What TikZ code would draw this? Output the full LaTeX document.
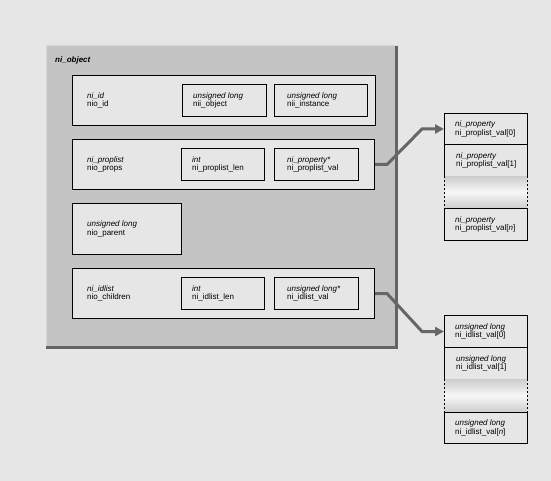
\documentclass[tikz,border=0pt]{standalone}
\usepackage{fontspec}
\setmainfont{Liberation Sans}
\usetikzlibrary{arrows.meta}
\definecolor{bg}{HTML}{E6E6E6}
\definecolor{objgray}{HTML}{C4C4C4}
\definecolor{darkedge}{HTML}{646464}
\definecolor{lightedge}{HTML}{D6D6D6}
\definecolor{shadegray}{HTML}{CDCDCD}
\definecolor{conncol}{HTML}{666666}
\begin{document}
\begin{tikzpicture}[x=1pt,y=-1pt,
  box/.style={draw=black, line width=1pt, fill=bg, inner sep=0pt, anchor=north west},
  lbl/.style={font=\fontsize{8}{8.2}\selectfont, align=left, inner sep=0pt, anchor=west},
  conn/.style={draw=conncol, line width=3pt, -{Triangle[length=9pt,width=9pt]}},
  gapcell/.style={inner sep=0pt, anchor=north west, minimum width=83pt, minimum height=32pt,
     top color=shadegray, bottom color=shadegray, middle color=white!97!black},
  sidedash/.style={draw=black, line width=1pt, dash pattern=on 2pt off 2pt}]
\fill[bg] (0,0) rectangle (551,481);
\useasboundingbox (0,0) rectangle (551,481);

% outer ni_object box
\node[fill=objgray, inner sep=0pt, anchor=north west, minimum width=350pt, minimum height=301pt] (obj) at (46,46) {};
\draw[lightedge, line width=1pt] (obj.south west) -- (obj.north west) -- (obj.north east);
\draw[darkedge, line width=3pt] (obj.north east) -- (obj.south east) -- (obj.south west);
\node[font=\fontsize{8}{9}\selectfont\bfseries\itshape, inner sep=0pt, anchor=west] (title) at (55,60) {ni\_object};

% ni_id
\node[box, minimum width=303pt, minimum height=50pt] (b1) at (72,75) {};
\node[lbl] (t1) at ([xshift=15pt]b1.west) {\textit{ni\_id}\\nio\_id};
\node[box, minimum width=84pt, minimum height=32pt] (s11) at (182,84) {};
\node[lbl] (u11) at ([xshift=11pt]s11.west) {\textit{unsigned long}\\nii\_object};
\node[box, minimum width=93pt, minimum height=32pt] (s12) at (274,84) {};
\node[lbl] (u12) at ([xshift=13pt]s12.west) {\textit{unsigned long}\\nii\_instance};

% ni_proplist
\node[box, minimum width=302pt, minimum height=50pt] (b2) at (72,139) {};
\node[lbl] (t2) at ([xshift=15pt]b2.west) {\textit{ni\_proplist}\\nio\_props};
\node[box, minimum width=83pt, minimum height=32pt] (s21) at (181,148) {};
\node[lbl] (u21) at ([xshift=11pt]s21.west) {\textit{int}\\ni\_proplist\_len};
\node[box, minimum width=84pt, minimum height=32pt] (s22) at (274,148) {};
\node[lbl] (u22) at ([xshift=13pt]s22.west) {\textit{ni\_property*}\\ni\_proplist\_val};

% nio_parent
\node[box, minimum width=109pt, minimum height=51pt] (b3) at (72,203) {};
\node[lbl] (t3) at ([xshift=15pt]b3.west) {\textit{unsigned long}\\nio\_parent};

% ni_idlist
\node[box, minimum width=302pt, minimum height=50pt] (b4) at (72,268) {};
\node[lbl] (t4) at ([xshift=15pt]b4.west) {\textit{ni\_idlist}\\nio\_children};
\node[box, minimum width=83pt, minimum height=32pt] (s41) at (181,277) {};
\node[lbl] (u41) at ([xshift=11pt]s41.west) {\textit{int}\\ni\_idlist\_len};
\node[box, minimum width=84pt, minimum height=32pt] (s42) at (274,277) {};
\node[lbl] (u42) at ([xshift=13pt]s42.west) {\textit{unsigned long*}\\ni\_idlist\_val};

% property array
\node[box, minimum width=83pt, minimum height=31pt] (a0) at (444,113) {};
\node[lbl] (v0) at ([xshift=11pt]a0.west) {\textit{ni\_property}\\ni\_proplist\_val[0]};
\node[box, minimum width=83pt, minimum height=32pt] (a1) at (444,144) {};
\node[lbl] (v1) at ([xshift=12pt]a1.west) {\textit{ni\_property}\\ni\_proplist\_val[1]};
\node[gapcell] (a2) at (444,176) {};
\draw[sidedash] (a2.north west) -- (a2.south west);
\draw[sidedash] (a2.north east) -- (a2.south east);
\node[box, minimum width=83pt, minimum height=32pt] (a3) at (444,208) {};
\node[lbl] (v3) at ([xshift=11pt]a3.west) {\textit{ni\_property}\\ni\_proplist\_val[\textit{n}]};

% idlist array
\node[box, minimum width=83pt, minimum height=32pt] (c0) at (444,315) {};
\node[lbl] (w0) at ([xshift=11pt]c0.west) {\textit{unsigned long}\\ni\_idlist\_val[0]};
\node[box, minimum width=83pt, minimum height=32pt] (c1) at (444,347) {};
\node[lbl] (w1) at ([xshift=12pt]c1.west) {\textit{unsigned long}\\ni\_idlist\_val[1]};
\node[gapcell, minimum height=33pt] (c2) at (444,379) {};
\draw[sidedash] (c2.north west) -- (c2.south west);
\draw[sidedash] (c2.north east) -- (c2.south east);
\node[box, minimum width=83pt, minimum height=31pt] (c3) at (444,412) {};
\node[lbl] (w3) at ([xshift=11pt]c3.west) {\textit{unsigned long}\\ni\_idlist\_val[\textit{n}]};

% connectors
\draw[conn] (b2.east) -- ++(12pt,0) -- ([xshift=-22pt]a0.west) -- (a0.west);
\draw[conn] (b4.east) -- ++(12pt,0) -- ([xshift=-22pt]c0.west) -- (c0.west);
\end{tikzpicture}
\end{document}
